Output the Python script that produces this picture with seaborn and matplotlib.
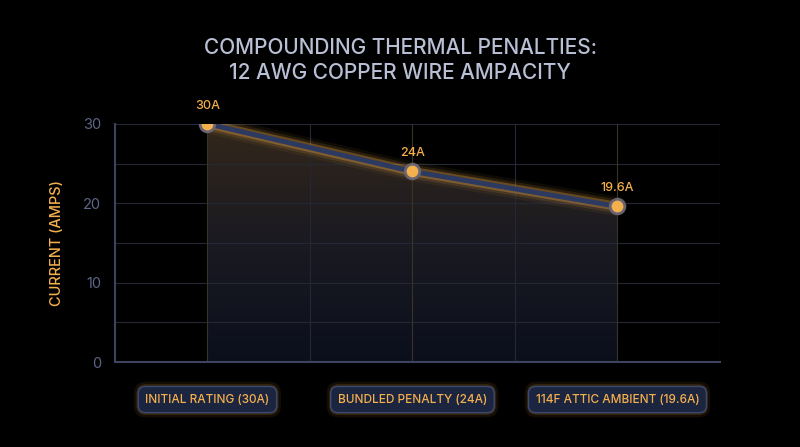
import numpy as np
import matplotlib.pyplot as plt
import matplotlib.patheffects as pe
from matplotlib.colors import LinearSegmentedColormap
import seaborn as sns

# data
stages = ["INITIAL RATING (30A)", "BUNDLED PENALTY (24A)", "114F ATTIC AMBIENT (19.6A)"]
amps = [30, 24, 19.6]
point_labels = ["30A", "24A", "19.6A"]

BG = "#000000"
ORANGE = "#f5b04e"
LINE = "#2c3a62"
GRID = "#252834"

sns.set_theme(style="dark")
plt.rcParams["font.family"] = ["Inter", "DejaVu Sans"]

fig = plt.figure(figsize=(8, 4.47), dpi=100, facecolor=BG)
ax = fig.add_axes([0.144, 0.19, 0.756, 0.533])
ax.set_facecolor(BG)

x = np.arange(len(amps))

# gradient fill under the line, clipped to the area
poly = ax.fill_between(x, amps, 0, color="none", zorder=1)
cmap = LinearSegmentedColormap.from_list("fill", ["#0b0f1c", "#1a1a22", "#33271a"])
grad = ax.imshow(np.linspace(0, 1, 256).reshape(-1, 1), cmap=cmap, origin="lower",
                 extent=[-0.45, 2.5, 0, 30], aspect="auto", zorder=1)
grad.set_clip_path(poly.get_paths()[0], transform=ax.transData)

# grid
for yv in range(0, 31, 5):
    ax.axhline(yv, color=GRID, lw=0.8, zorder=2)
for xv in np.arange(0, 2.6, 0.5):
    ax.axvline(xv, color="#3a3426" if xv % 1 == 0 else GRID, lw=0.8, zorder=2)

glow = [pe.Stroke(linewidth=14, foreground=ORANGE, alpha=0.06),
        pe.Stroke(linewidth=10, foreground=ORANGE, alpha=0.12),
        pe.Stroke(linewidth=6.5, foreground=ORANGE, alpha=0.3), pe.Normal()]
sns.lineplot(x=x, y=amps, ax=ax, color=LINE, lw=3.5, zorder=3,
             path_effects=glow)
ax.scatter(x, amps, s=110, color=ORANGE, edgecolor="#6a6470", linewidth=2, zorder=4)

for xi, yi, lab in zip(x, amps, point_labels):
    ax.annotate(lab, (xi, yi), xytext=(0, 11), textcoords="offset points",
                ha="center", color=ORANGE, fontsize=9, fontweight="medium")

ax.set_xlim(-0.45, 2.5)
ax.set_ylim(0, 30)
ax.set_yticks([0, 10, 20, 30])
ax.set_xticks(x)
ax.set_xticklabels([])
ax.tick_params(axis="y", colors="#5d6685", labelsize=10.5, length=0, pad=10)
ax.tick_params(axis="x", length=0)
for s in ["top", "right"]:
    ax.spines[s].set_visible(False)
for s in ["left", "bottom"]:
    ax.spines[s].set_color("#3c4460")
    ax.spines[s].set_linewidth(1.5)
ax.set_ylabel("CURRENT (AMPS)", color=ORANGE, fontsize=10.5, labelpad=14, fontweight="medium")

# category boxes with soft glow
for xi, lab in zip(x, stages):
    for pad, a in [(1.0, 0.08), (0.8, 0.14)]:
        ax.annotate(lab, (xi, 0), xytext=(0, -27), textcoords="offset points",
                    ha="center", va="center", color="none", fontsize=8.5,
                    annotation_clip=False,
                    bbox=dict(boxstyle=f"round,pad={pad}", fc=ORANGE, ec="none", alpha=a))
    ax.annotate(lab, (xi, 0), xytext=(0, -27), textcoords="offset points",
                ha="center", va="center", color=ORANGE, fontsize=8.5, fontweight="medium",
                annotation_clip=False,
                bbox=dict(boxstyle="round,pad=0.6", fc="#1b2540", ec="#3d4a70", lw=1))

fig.text(0.5, 0.865, "COMPOUNDING THERMAL PENALTIES:\n12 AWG COPPER WIRE AMPACITY",
         ha="center", va="center", color="#b9bfd4", fontsize=15, linespacing=1.3,
         fontweight="medium")

fig.savefig("out.png", dpi=100, facecolor=BG)
